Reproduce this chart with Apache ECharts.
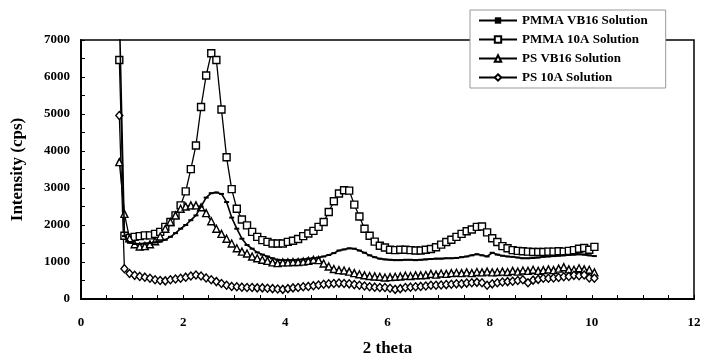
<!DOCTYPE html>
<html>
<head>
<meta charset="utf-8">
<script src="https://cdn.jsdelivr.net/npm/echarts@6/dist/echarts.min.js"></script>
<style>html,body{margin:0;padding:0;background:#fff}#c{width:704px;height:362px}</style>
</head>
<body>
<div id="c"></div>
<script>
const seriesNames = ['PMMA VB16 Solution', 'PMMA 10A Solution', 'PS VB16 Solution', 'PS 10A Solution'];
const xTicks = [0, 2, 4, 6, 8, 10, 12];
const yTicks = [0, 1000, 2000, 3000, 4000, 5000, 6000, 7000];
const twoTheta = [
  0.75,0.85,0.95,1.05,1.15,1.25,1.35,1.45,1.55,1.65,
  1.75,1.85,1.95,2.05,2.15,2.25,2.35,2.45,2.55,2.65,
  2.75,2.85,2.95,3.05,3.15,3.25,3.35,3.45,3.55,3.65,
  3.75,3.85,3.95,4.05,4.15,4.25,4.35,4.45,4.55,4.65,
  4.75,4.85,4.95,5.05,5.15,5.25,5.35,5.45,5.55,5.65,
  5.75,5.85,5.95,6.05,6.15,6.25,6.35,6.45,6.55,6.65,
  6.75,6.85,6.95,7.05,7.15,7.25,7.35,7.45,7.55,7.65,
  7.75,7.85,7.95,8.05,8.15,8.25,8.35,8.45,8.55,8.65,
  8.75,8.85,8.95,9.05,9.15,9.25,9.35,9.45,9.55,9.65,
  9.75,9.85,9.95,10.05
];
const pmmaVB16 = [
  7800,1700,1520,1490,1490,1500,1510,1530,1550,1600,
  1680,1780,1900,2000,2130,2260,2500,2740,2860,2880,
  2840,2620,2200,1900,1630,1460,1360,1260,1200,1150,
  1100,1060,1050,1050,1050,1060,1070,1090,1100,1120,
  1150,1190,1240,1310,1340,1370,1360,1310,1250,1180,
  1130,1090,1070,1060,1050,1050,1060,1060,1050,1060,
  1070,1080,1090,1090,1100,1100,1110,1130,1150,1180,
  1210,1180,1150,1250,1200,1170,1150,1140,1120,1100,
  1100,1110,1120,1140,1150,1160,1170,1180,1190,1200,
  1210,1200,1180,1160
];
const pmma10A = [
  6460,1710,1650,1680,1700,1720,1720,1760,1815,1950,
  2080,2260,2530,2910,3510,4150,5190,6040,6640,6460,
  5120,3830,2970,2440,2150,1990,1815,1680,1590,1545,
  1500,1500,1500,1545,1575,1620,1700,1770,1840,1950,
  2080,2350,2640,2850,2940,2930,2550,2230,1900,1710,
  1550,1440,1390,1330,1320,1330,1330,1320,1310,1310,
  1330,1350,1400,1470,1540,1600,1680,1760,1830,1880,
  1950,1960,1800,1640,1540,1430,1370,1320,1300,1290,
  1280,1270,1270,1270,1280,1280,1290,1280,1300,1320,
  1360,1380,1330,1410
];
const psVB16 = [
  3700,2300,1640,1480,1420,1430,1480,1560,1690,1900,
  2080,2260,2440,2500,2530,2530,2480,2320,2100,1900,
  1760,1630,1500,1370,1280,1230,1150,1100,1060,1030,
  990,970,990,990,1000,1000,1010,1030,1060,1050,
  960,880,810,780,770,740,700,670,640,620,
  610,600,580,590,600,610,630,620,640,640,
  650,680,660,690,680,700,710,700,720,700,
  730,720,740,720,730,740,730,760,740,770,
  760,790,760,780,800,780,820,860,800,790,
  830,800,790,720
];
const ps10A = [
  4960,820,690,640,610,590,560,520,500,490,
  520,540,560,590,620,650,620,570,520,470,
  420,370,340,330,320,310,310,300,300,290,
  280,270,260,280,300,310,330,340,360,380,
  400,410,420,430,420,410,390,370,350,330,
  320,310,310,290,260,280,310,320,330,340,
  350,370,370,380,390,400,410,410,430,440,
  450,440,370,410,440,460,470,480,500,520,
  440,510,530,560,560,570,580,600,610,640,
  630,650,570,560
];

const FONT = '"Liberation Serif", "Times New Roman", serif';
function pairs(ys) { return twoTheta.map((x, i) => [x, ys[i]]); }

const chart = echarts.init(document.getElementById('c'), null, {renderer: 'canvas'});
const lineStyle = {color: '#000', width: 1.3};
const itemStyle = {color: '#fff', borderColor: '#000', borderWidth: 1.4};
chart.setOption({
  animation: false,
  backgroundColor: '#fff',
  grid: {left: 81, right: 10, top: 40, bottom: 61, show: true, borderColor: '#000', borderWidth: 1.5, backgroundColor: 'transparent'},
  legend: {
    orient: 'vertical', left: 470, top: 10,
    data: seriesNames,
    itemWidth: 38, itemHeight: 8, itemGap: 6,
    backgroundColor: '#fff', borderColor: '#999', borderWidth: 1,
    padding: [4, 18, 4, 8],
    textStyle: {fontFamily: FONT, fontWeight: 'bold', fontSize: 13, color: '#000'}
  },
  xAxis: {
    type: 'value', min: xTicks[0], max: xTicks[xTicks.length - 1], interval: 2,
    name: '2 theta', nameLocation: 'middle', nameGap: 41,
    nameTextStyle: {fontFamily: FONT, fontWeight: 'bold', fontSize: 17, color: '#000'},
    axisLine: {show: true, lineStyle: {color: '#000', width: 2}},
    axisTick: {show: true, inside: true, length: 4, lineStyle: {color: '#000'}},
    minorTick: {show: true, splitNumber: 4, length: 4, lineStyle: {color: '#000'}},
    axisLabel: {margin: 17, fontFamily: FONT, fontWeight: 'bold', fontSize: 13, color: '#000'},
    splitLine: {show: false}
  },
  yAxis: {
    type: 'value', min: yTicks[0], max: yTicks[yTicks.length - 1], interval: 1000,
    name: 'Intensity (cps)', nameLocation: 'middle', nameGap: 55,
    nameTextStyle: {fontFamily: FONT, fontWeight: 'bold', fontSize: 17, color: '#000'},
    axisLine: {show: true, lineStyle: {color: '#000', width: 2}},
    axisTick: {show: true, inside: true, length: 4, lineStyle: {color: '#000'}},
    minorTick: {show: true, splitNumber: 2, length: 4, lineStyle: {color: '#000'}},
    axisLabel: {margin: 11, fontFamily: FONT, fontWeight: 'bold', fontSize: 13, color: '#000', formatter: v => String(v)},
    splitLine: {show: false}
  },
  series: [
    {name: seriesNames[0], type: 'line', data: pairs(pmmaVB16), symbol: 'rect', symbolSize: [5, 2],
     lineStyle: {color: '#000', width: 1.6}, itemStyle: {color: '#000'}, z: 3},
    {name: seriesNames[1], type: 'line', data: pairs(pmma10A), symbol: 'rect', symbolSize: 7,
     lineStyle: lineStyle, itemStyle: itemStyle, z: 2},
    {name: seriesNames[2], type: 'line', data: pairs(psVB16), symbol: 'triangle', symbolSize: 7,
     lineStyle: lineStyle, itemStyle: itemStyle, z: 2},
    {name: seriesNames[3], type: 'line', data: pairs(ps10A), symbol: 'diamond', symbolSize: [7, 8],
     lineStyle: lineStyle, itemStyle: itemStyle, z: 2}
  ]
});
</script>
</body>
</html>
